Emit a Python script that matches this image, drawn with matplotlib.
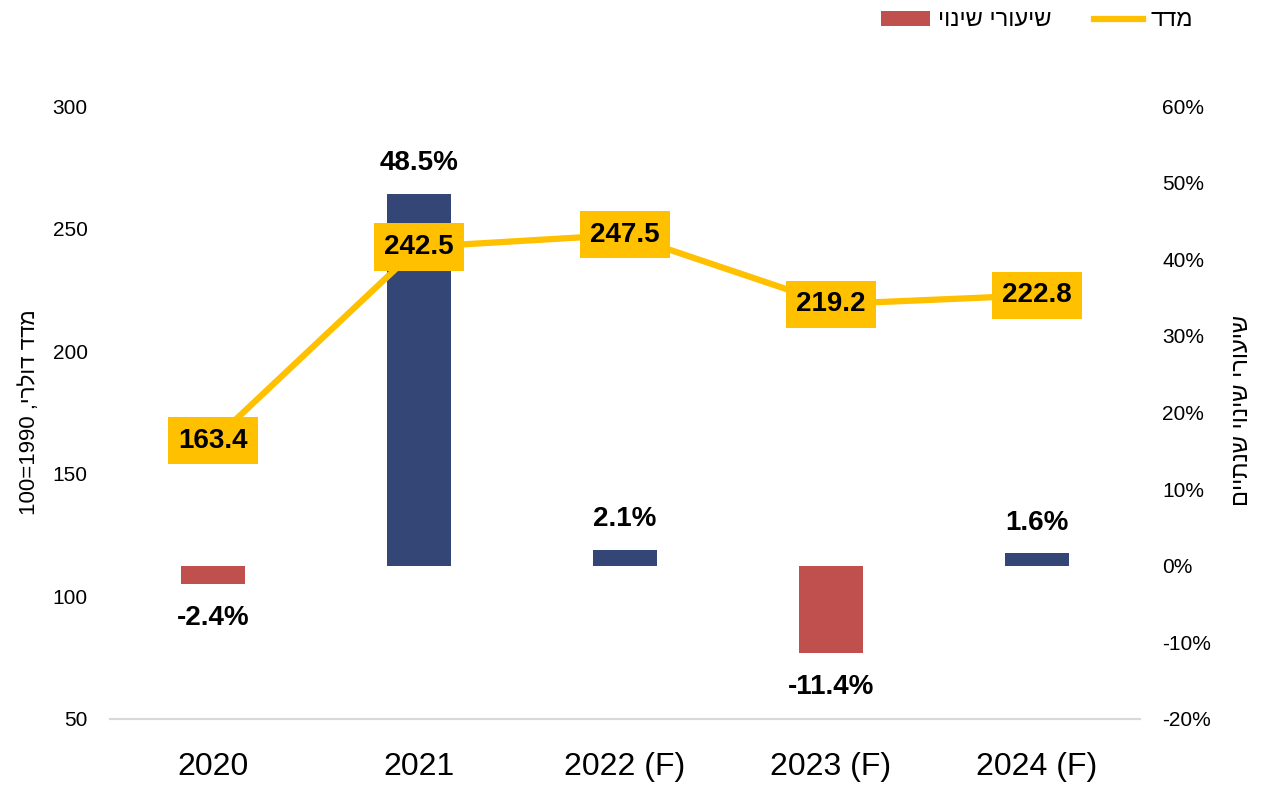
import matplotlib
matplotlib.use("Agg")
import matplotlib.pyplot as plt
from matplotlib.patches import Patch
from matplotlib.lines import Line2D
from matplotlib.ticker import FuncFormatter

plt.rcParams['font.family'] = ['Liberation Sans', 'DejaVu Sans']

# data
years = ['2020', '2021', '2022 (F)', '2023 (F)', '2024 (F)']
index_vals = [163.4, 242.5, 247.5, 219.2, 222.8]
change_pct = [-2.4, 48.5, 2.1, -11.4, 1.6]


def heb(s):
    # matplotlib has no bidi support, so flip Hebrew into visual order
    return s[::-1]


blue = '#344675'
red = '#C0504D'
yellow = '#FFC000'

fig = plt.figure(figsize=(12.62, 7.87), dpi=100)
ax = fig.add_axes([110 / 1262, 1 - 719 / 787, 1030 / 1262, 613 / 787])
ax2 = ax.twinx()

x = list(range(len(years)))

# bars on right axis
bar_colors = [red if v < 0 else blue for v in change_pct]
ax2.bar(x, change_pct, width=0.31, color=bar_colors, zorder=2)
for xi, v in zip(x, change_pct):
    off = 4.0 if v >= 0 else -4.4
    ax2.text(xi, v + off, f'{v:.1f}%', ha='center', va='center',
             fontsize=20, fontweight='bold', color='black')
ax2.set_ylim(-20, 60)
ax2.set_yticks(range(-20, 61, 10))
ax2.yaxis.set_major_formatter(FuncFormatter(lambda v, p: f'{v:.0f}%'))

# line on left axis, drawn above bars
ax.set_zorder(ax2.get_zorder() + 1)
ax.patch.set_visible(False)
ax.plot(x, index_vals, color=yellow, lw=4.5, zorder=3, solid_capstyle='round')
for xi, v in zip(x, index_vals):
    ax.text(xi, v, f'{v:.1f}', ha='center', va='center', fontsize=20,
            fontweight='bold', color='black', zorder=4,
            bbox=dict(boxstyle='square,pad=0.38', fc=yellow, ec='none'))
ax.set_ylim(50, 300)
ax.set_yticks(range(50, 301, 50))
ax.set_xlim(-0.5, 4.5)
ax.set_xticks(x)
ax.set_xticklabels(years, fontsize=23)
ax.tick_params(axis='x', length=0, pad=24)

for a in (ax, ax2):
    for s in ('top', 'left', 'right'):
        a.spines[s].set_visible(False)
    a.spines['bottom'].set_color('#D9D9D9')
    a.spines['bottom'].set_linewidth(1.5)
ax.tick_params(axis='y', length=0, labelsize=15, pad=16)
ax2.tick_params(axis='y', length=0, labelsize=15, pad=16)

fig.text(30 / 1262, 1 - 412 / 787, '100=1990 ,' + heb('מדד דולרי'),
         rotation=90, ha='center', va='center', fontsize=16)
fig.text(1242 / 1262, 1 - 410 / 787, heb('שיעורי שינוי שנתיים'),
         rotation=90, ha='center', va='center', fontsize=17)

handles = [Patch(facecolor=red), Line2D([], [], color=yellow, lw=4.5)]
labels = [heb('שיעורי שינוי'), heb('מדד')]
fig.legend(handles, labels, loc='upper right', bbox_to_anchor=(1214 / 1262, 1.015),
           ncol=2, frameon=False, fontsize=17, handlelength=2.1, handleheight=0.6,
           columnspacing=1.8, handletextpad=0.3)

fig.savefig('out.png', dpi=100)
